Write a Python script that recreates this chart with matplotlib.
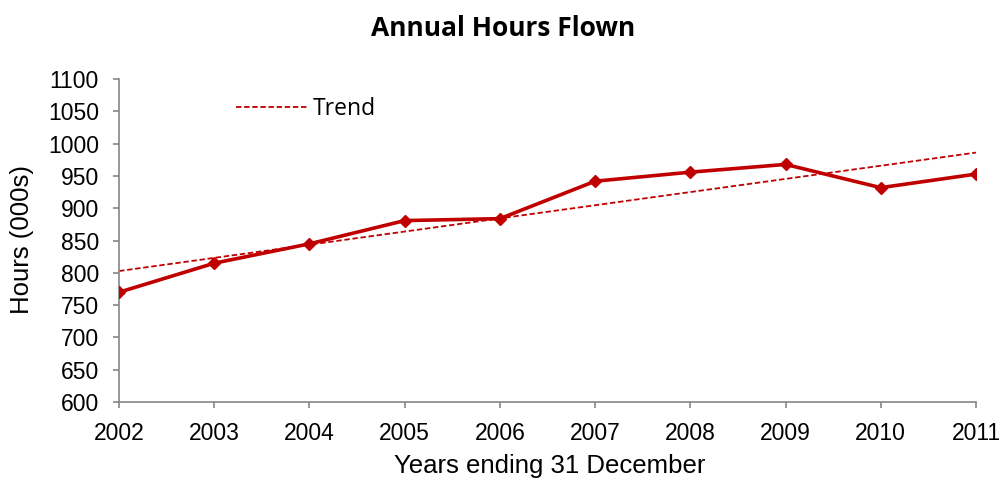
import numpy as np
import matplotlib.pyplot as plt

years = [2002, 2003, 2004, 2005, 2006, 2007, 2008, 2009, 2010, 2011]
hours = [770, 815, 845, 881, 884, 942, 956, 968, 932, 953]

red = '#C00000'
grey = '#868686'

fig = plt.figure(figsize=(10.02, 4.8), dpi=100)
ax = fig.add_axes([0.1188, 0.1625, 0.8552, 0.6725])

ax.plot(years, hours, color=red, lw=2.6, marker='D', markersize=6, zorder=3)

# linear trend fitted to the series
coef = np.polyfit(years, hours, 1)
trend = np.polyval(coef, years)
tr, = ax.plot(years, trend, color=red, lw=1.3, ls=(0, (3, 1.5)), label='Trend')

ax.set_xlim(2002, 2011)
ax.set_ylim(600, 1100)
ax.set_xticks(years)
ax.set_yticks(range(600, 1101, 50))

for s in ['top', 'right']:
    ax.spines[s].set_visible(False)
for s in ['left', 'bottom']:
    ax.spines[s].set_color(grey)
    ax.spines[s].set_linewidth(1.2)
ax.tick_params(direction='out', length=4.5, width=1.2, color=grey,
               labelsize=16.5, pad=10)
for lab in ax.get_xticklabels() + ax.get_yticklabels():
    lab.set_family('Liberation Sans')

fig.text(0.022, 0.5, 'Hours (000s)', rotation=90, fontsize=18.5,
         family='Liberation Sans', ha='center', va='center')
fig.text(0.549, 1 - 473 / 480, 'Years ending 31 December', fontsize=18.5,
         family='Liberation Sans', ha='center', va='baseline')
fig.text(0.502, 1 - 28 / 480, 'Annual Hours Flown', fontsize=19,
         fontweight='bold', family='Open Sans', ha='center', va='center')

ax.legend(handles=[tr], loc='center left', bbox_to_anchor=(0.1365, 0.907),
          frameon=False, handlelength=3.1, handletextpad=0.25,
          borderaxespad=0, borderpad=0,
          prop={'family': 'Open Sans', 'size': 16.5})

fig.savefig('out.png', dpi=100)
plt.close(fig)
